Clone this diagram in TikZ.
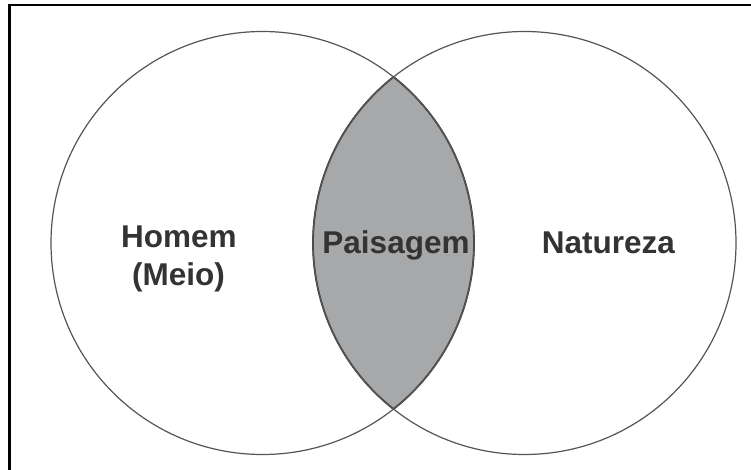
\documentclass[tikz,border=0pt]{standalone}
\usepackage{fontspec}
\newfontfamily\labelfont{Liberation Sans}
\definecolor{ringline}{HTML}{555555}
\definecolor{lensgray}{HTML}{A7A8AA}
\definecolor{lensline}{HTML}{3A3A3A}
\definecolor{labelink}{HTML}{333333}
\begin{document}
\begin{tikzpicture}[x=1pt,y=-1pt,
  ring/.style={circle,draw=ringline,line width=1.2pt,minimum size=423pt,inner sep=0pt},
  setlabel/.style={anchor=base,inner sep=0pt,text=labelink,
    font=\labelfont\bfseries\fontsize{31.5}{38}\selectfont}]
  \useasboundingbox (0,0) rectangle (751,470);
  \fill[white] (0,0) rectangle (751,470);
  % outer frame (left and top edges)
  \draw[line width=2.4pt,black] (9.3,472) -- (9.3,5) -- (753,5);

  % shaded intersection of the two sets
  \begin{scope}
    \clip (262.5,243) circle[radius=211.5pt];
    \fill[lensgray] (524.5,243) circle[radius=211.5pt];
    \draw[lensline,line width=1.8pt] (524.5,243) circle[radius=211.5pt];
  \end{scope}
  \begin{scope}
    \clip (524.5,243) circle[radius=211.5pt];
    \draw[lensline,line width=1.8pt] (262.5,243) circle[radius=211.5pt];
  \end{scope}

  % the two sets
  \node[ring] (homemset) at (262.5,243) {};
  \node[ring] (natset) at (524.5,243) {};

  % labels
  \node[setlabel] (homem) at (179,247) {Homem};
  \node[setlabel] (meio) at (178.5,285) {(Meio)};
  \node[setlabel] (paisagem) at (396,253) {Paisagem};
  \node[setlabel] (natureza) at (608.5,253) {Natureza};
\end{tikzpicture}
\end{document}
